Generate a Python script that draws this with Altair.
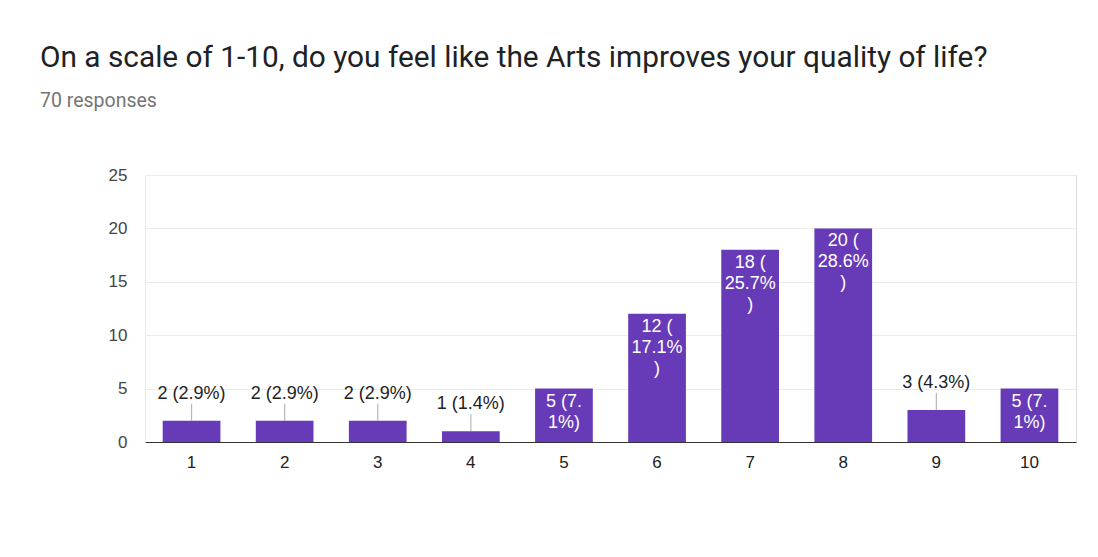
import altair as alt
import pandas as pd

scale_values = ["1", "2", "3", "4", "5", "6", "7", "8", "9", "10"]
counts = [2, 2, 2, 1, 5, 12, 18, 20, 3, 5]
total = 70
inside_labels = {
    "5": "5 (7.\n1%)",
    "6": "12 (\n17.1%\n)",
    "7": "18 (\n25.7%\n)",
    "8": "20 (\n28.6%\n)",
    "10": "5 (7.\n1%)",
}

rows = []
for v, c in zip(scale_values, counts):
    lab = f"{c} ({c / total * 100:.1f}%)"
    rows.append({
        "scale": v,
        "count": c,
        "outside": lab if v not in inside_labels else "",
        "inside": inside_labels.get(v, ""),
        "is_inside": v in inside_labels,
    })
df = pd.DataFrame(rows)

FONT = "Liberation Sans"
PURPLE = "#673ab7"

x = alt.X("scale:N", sort=scale_values, title=None,
          scale=alt.Scale(paddingInner=0.38, paddingOuter=0.19),
          axis=alt.Axis(labelAngle=0, labelFont=FONT, labelFontSize=17,
                        labelColor="#222222", labelPadding=12, ticks=False,
                        domainColor="#333333", domainWidth=1.2, grid=False))
y = alt.Y("count:Q", title=None,
          scale=alt.Scale(domain=[0, 25], padding=0, nice=False),
          axis=alt.Axis(values=[0, 5, 10, 15, 20, 25], labelFont=FONT,
                        labelFontSize=17, labelColor="#444444", labelPadding=18,
                        ticks=False, domainColor="#ebebeb",
                        gridColor="#ebebeb", gridWidth=1.2))

base = alt.Chart(df)

bars = base.mark_bar(color=PURPLE).encode(x=x, y=y)

outside = base.transform_filter("!datum.is_inside")

leaders = outside.mark_tick(orient="vertical", size=17, thickness=1.2,
                            color="#999999", yOffset=-8.5).encode(
    x=alt.X("scale:N", sort=scale_values), y="count:Q")

out_text = outside.mark_text(font=FONT, fontSize=18, color="#222222",
                             baseline="middle", dy=-27).encode(
    x=alt.X("scale:N", sort=scale_values), y="count:Q", text="outside:N")

in_text = base.transform_filter("datum.is_inside").mark_text(
    font=FONT, fontSize=18, color="#ffffff", baseline="top", dy=4,
    lineBreak="\n", lineHeight=21).encode(
    x=alt.X("scale:N", sort=scale_values), y="count:Q", text="inside:N")

chart = alt.layer(bars, leaders, out_text, in_text).properties(
    width=931, height=267,
    autosize=alt.AutoSizeParams(type="none"),
    padding={"left": 137, "top": 167, "right": 10, "bottom": 100},
    title=alt.TitleParams(
        text="On a scale of 1-10, do you feel like the Arts improves your quality of life?",
        subtitle="70 responses",
        anchor="start", frame="group", dx=-105, offset=56,
        font="Roboto", fontSize=29.8, fontWeight="normal", color="#202124",
        subtitleFont="Roboto", subtitleFontSize=19.5, subtitleColor="#757575",
        subtitlePadding=19),
).configure_view(strokeWidth=0).configure(background="#ffffff")

chart.save("out.html", embed_options={"renderer": "svg", "actions": False})
